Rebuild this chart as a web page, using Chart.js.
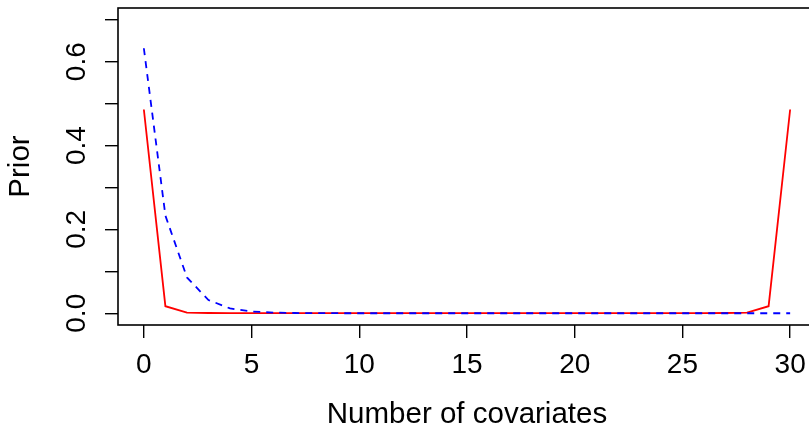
<!DOCTYPE html>
<html>
<head>
<meta charset="utf-8">
<script src="https://cdn.jsdelivr.net/npm/chart.js@4"></script>
<style>
  html, body { margin: 0; padding: 0; background: #fff; overflow: hidden; }
  #myChart { display: block; }
</style>
</head>
<body>
<canvas id="myChart" width="830" height="433"></canvas>
<script>
// number of covariates 0..30
const covariates = [0, 1, 2, 3, 4, 5, 6, 7, 8, 9, 10, 11, 12, 13, 14, 15,
  16, 17, 18, 19, 20, 21, 22, 23, 24, 25, 26, 27, 28, 29, 30];

// red solid curve (U shaped prior)
const priorRed = [0.486, 0.0168, 0.0016, 0.0006, 0.0004, 0.0003, 0.0002, 0.0002,
  0.0002, 0.0001, 0.0001, 0.0001, 0.0001, 0.0001, 0.0001, 0.0001, 0.0001, 0.0001,
  0.0001, 0.0001, 0.0001, 0.0001, 0.0002, 0.0002, 0.0002, 0.0003, 0.0004, 0.0006,
  0.0016, 0.0168, 0.486];

// blue dashed curve
const priorBlue = [0.632, 0.233, 0.0855, 0.0315, 0.0116, 0.0043, 0.0016, 0.0006,
  0.0002, 0.0001, 0, 0, 0, 0, 0, 0, 0, 0, 0, 0, 0, 0, 0, 0, 0, 0, 0, 0, 0, 0, 0];

const xTicks = [0, 5, 10, 15, 20, 25, 30];
const yTicks = [0, 0.1, 0.2, 0.3, 0.4, 0.5, 0.6, 0.7];
const yLabels = ['0.0', '', '0.2', '', '0.4', '', '0.6', ''];

const fontFamily = '"Liberation Sans", Arial, Helvetica, sans-serif';

const toPoints = function (ys) {
  return covariates.map((x, i) => ({ x: x, y: ys[i] }));
};

// R-style box around the plot region
const boxPlugin = {
  id: 'box',
  afterDraw(chart) {
    const a = chart.chartArea;
    const ctx = chart.ctx;
    ctx.save();
    ctx.strokeStyle = '#000';
    ctx.lineWidth = 1.6;
    ctx.strokeRect(a.left, a.top, a.right - a.left, a.bottom - a.top);
    ctx.restore();
  },
};

let myChart = '';

const init = function () {
  const ctx = document.getElementById('myChart').getContext('2d');
  myChart = new Chart(ctx, {
    type: 'line',
    data: {
      datasets: [
        {
          label: 'red',
          data: toPoints(priorRed),
          borderColor: '#ff0000',
          borderWidth: 1.8,
          pointRadius: 0,
          tension: 0,
          order: 2,
        },
        {
          label: 'blue',
          data: toPoints(priorBlue),
          borderColor: '#0000ff',
          borderWidth: 1.8,
          borderDash: [7, 6],
          pointRadius: 0,
          tension: 0,
          order: 1,
        },
      ],
    },
    options: {
      responsive: false,
      animation: false,
      layout: { padding: { top: 8, right: 14, left: 0, bottom: 0 } },
      plugins: { legend: { display: false }, tooltip: { enabled: false } },
      scales: {
        x: {
          type: 'linear',
          min: -1.2,
          max: 31.2,
          afterFit(scale) {
            scale.height = 108;
            scale.paddingLeft = 0;
            scale.paddingRight = 0;
          },
          afterBuildTicks(scale) { scale.ticks = xTicks.map(v => ({ value: v })); },
          border: { display: false },
          grid: {
            drawOnChartArea: false,
            drawTicks: true,
            tickLength: 13,
            tickColor: '#000',
            lineWidth: 1.4,
          },
          ticks: {
            color: '#000',
            font: { family: fontFamily, size: 28 },
            padding: 10,
            maxRotation: 0,
            autoSkip: false,
            callback: (v) => String(v),
          },
          title: {
            display: true,
            text: 'Number of covariates',
            color: '#000',
            font: { family: fontFamily, size: 29.5 },
            padding: { top: 0, bottom: 0 },
          },
        },
        y: {
          type: 'linear',
          min: -0.028,
          max: 0.728,
          afterFit(scale) {
            scale.width = 118;
            scale.paddingTop = 0;
            scale.paddingBottom = 0;
          },
          afterBuildTicks(scale) { scale.ticks = yTicks.map(v => ({ value: v })); },
          border: { display: false },
          grid: {
            drawOnChartArea: false,
            drawTicks: true,
            tickLength: 13,
            tickColor: '#000',
            lineWidth: 1.4,
          },
          ticks: {
            color: '#000',
            font: { family: fontFamily, size: 28 },
            padding: 8,
            minRotation: 90,
            maxRotation: 90,
            crossAlign: 'center',
            autoSkip: false,
            callback: (v, i) => yLabels[i],
          },
          title: {
            display: true,
            text: 'Prior',
            color: '#000',
            font: { family: fontFamily, size: 29.5 },
            padding: { top: 3, bottom: 0 },
          },
        },
      },
    },
    plugins: [boxPlugin],
  });
};

document.addEventListener('DOMContentLoaded', init);
</script>
</body>
</html>
